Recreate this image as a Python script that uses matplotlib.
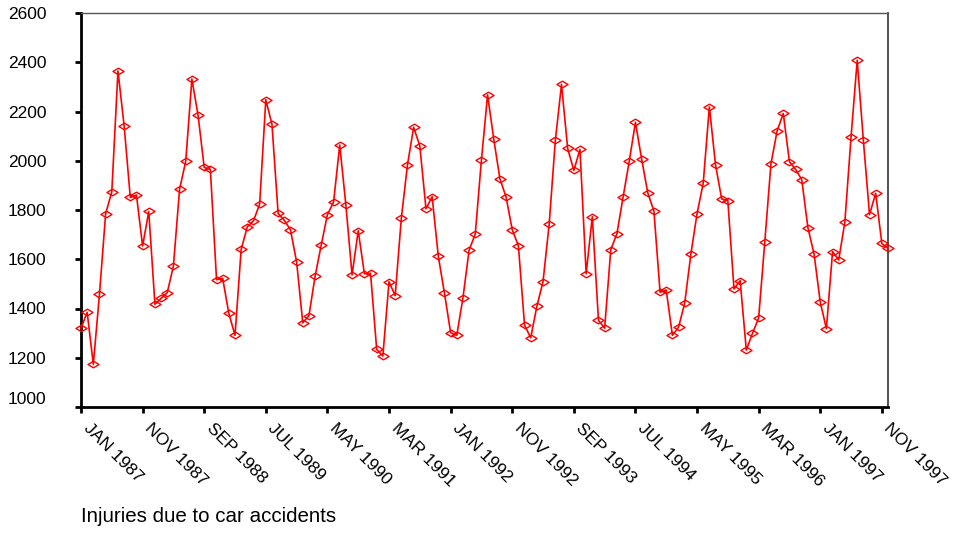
import numpy as np
import matplotlib.pyplot as plt
import matplotlib.transforms as mtransforms
from matplotlib.path import Path

# monthly injuries, Jan 1987 - Dec 1997
injuries = [
    1320, 1384, 1173, 1459, 1785, 1874, 2365, 2142, 1851, 1861, 1654, 1794,
    1417, 1441, 1464, 1572, 1884, 1998, 2332, 2185, 1973, 1965, 1517, 1522,
    1380, 1291, 1640, 1732, 1756, 1824, 2248, 2148, 1786, 1758, 1720, 1589,
    1342, 1371, 1531, 1658, 1781, 1832, 2064, 1819, 1536, 1716, 1541, 1543,
    1234, 1207, 1509, 1452, 1767, 1984, 2136, 2060, 1805, 1854, 1612, 1462,
    1302, 1291, 1443, 1637, 1702, 2003, 2268, 2088, 1927, 1853, 1720, 1655,
    1333, 1281, 1409, 1509, 1743, 2083, 2310, 2050, 1961, 2046, 1541, 1773,
    1352, 1320, 1639, 1704, 1853, 1999, 2156, 2008, 1870, 1796, 1466, 1475,
    1291, 1324, 1422, 1621, 1785, 1908, 2219, 1984, 1845, 1838, 1479, 1513,
    1231, 1299, 1361, 1671, 1988, 2121, 2192, 1996, 1965, 1923, 1728, 1621,
    1426, 1318, 1631, 1597, 1752, 2096, 2408, 2083, 1781, 1868, 1664, 1644,
]
tick_labels = ['JAN 1987', 'NOV 1987', 'SEP 1988', 'JUL 1989', 'MAY 1990',
               'MAR 1991', 'JAN 1992', 'NOV 1992', 'SEP 1993', 'JUL 1994',
               'MAY 1995', 'MAR 1996', 'JAN 1997', 'NOV 1997']
y_ticks = [1000, 1200, 1400, 1600, 1800, 2000, 2200, 2400, 2600]

plt.rcParams['font.family'] = ['Liberation Sans', 'DejaVu Sans']

months = np.arange(len(injuries))

# flat open diamond like the original SPSS marker
diamond = Path([(-1, 0), (0, 0.6), (1, 0), (0, -0.6), (-1, 0)],
               [Path.MOVETO, Path.LINETO, Path.LINETO, Path.LINETO, Path.CLOSEPOLY])

fig = plt.figure(figsize=(9.55, 5.36), dpi=100)
ax = fig.add_axes([81 / 955, 1 - 407 / 536, (888 - 81) / 955, (407 - 13) / 536])

ax.plot(months, injuries, color='red', lw=1.2, marker=diamond, markersize=8,
        markerfacecolor='none', markeredgecolor='red', markeredgewidth=1.0,
        clip_on=False, zorder=3)

ax.set_xlim(0, len(injuries) - 1)
ax.set_ylim(1000, 2600)
ax.set_yticks(y_ticks)
ax.set_yticklabels([str(v) for v in y_ticks], fontsize=12.5)
ax.set_xticks(np.arange(0, len(injuries), 10))
ax.set_xticklabels(tick_labels, fontsize=12.5, rotation=-45,
                   ha='left', va='top', rotation_mode='anchor')

ax.tick_params(axis='y', length=4, width=2, pad=21)
ax.tick_params(axis='x', length=4, width=2, pad=6)

# nudge the slanted date labels to the right of their ticks
shift = mtransforms.ScaledTranslation(0.10, 0, fig.dpi_scale_trans)
for lab in ax.get_xticklabels():
    lab.set_transform(lab.get_transform() + shift)
# bottom value label sits a little higher in the original
up = mtransforms.ScaledTranslation(0, 0.09, fig.dpi_scale_trans)
first = ax.get_yticklabels()[0]
first.set_transform(first.get_transform() + up)

ax.spines['left'].set_linewidth(2)
ax.spines['bottom'].set_linewidth(2)
ax.spines['top'].set_color('#555555')
ax.spines['top'].set_linewidth(1)
ax.spines['right'].set_color('#333333')
ax.spines['right'].set_linewidth(1.2)

fig.text(81 / 955, 1 - 517 / 536, 'Injuries due to car accidents',
         fontsize=14.8, ha='left', va='center')

fig.savefig('out.png', dpi=100)
